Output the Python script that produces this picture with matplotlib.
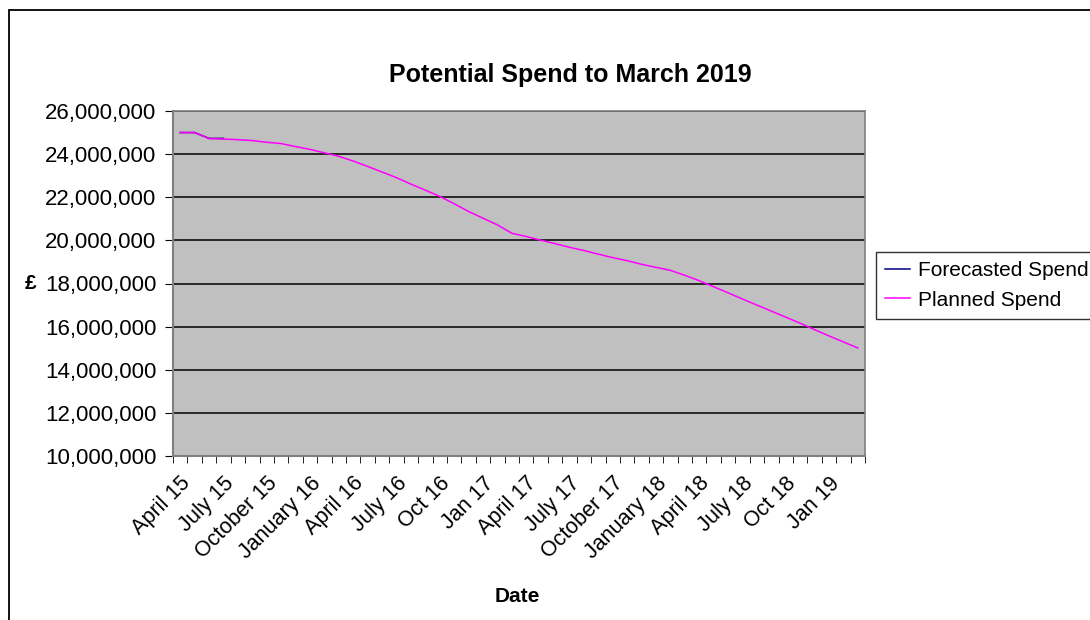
import numpy as np
import matplotlib
matplotlib.use("Agg")
import matplotlib.pyplot as plt
from matplotlib.patches import Rectangle
from matplotlib.ticker import FuncFormatter, FixedLocator

plt.rcParams['font.family'] = ['Liberation Sans', 'DejaVu Sans']

# Month categories April 15 .. March 19 (48 months), label every 3rd
months = ["April 15", "May 15", "June 15", "July 15", "August 15", "September 15",
          "October 15", "November 15", "December 15", "January 16", "February 16", "March 16",
          "April 16", "May 16", "June 16", "July 16", "August 16", "September 16",
          "Oct 16", "Nov 16", "Dec 16", "Jan 17", "Feb 17", "Mar 17",
          "April 17", "May 17", "June 17", "July 17", "August 17", "September 17",
          "October 17", "November 17", "December 17", "January 18", "February 18", "March 18",
          "April 18", "May 18", "June 18", "July 18", "August 18", "September 18",
          "Oct 18", "Nov 18", "Dec 18", "Jan 19", "Feb 19", "Mar 19"]

# Values in millions of pounds
planned = [25.00, 25.00, 24.72, 24.70, 24.67, 24.63, 24.55, 24.49, 24.35, 24.22,
           24.06, 23.90, 23.68, 23.43, 23.17, 22.91, 22.61, 22.33, 22.04, 21.70,
           21.34, 21.03, 20.72, 20.33, 20.18, 20.01, 19.85, 19.68, 19.53, 19.36,
           19.20, 19.06, 18.89, 18.75, 18.61, 18.38, 18.13, 17.85, 17.57, 17.28,
           17.00, 16.72, 16.44, 16.16, 15.86, 15.57, 15.29, 15.01]
forecast = [25.00, 25.00, 24.73, 24.73]

W, H = 1090, 620
fig = plt.figure(figsize=(W / 100, H / 100), dpi=100)

# outer chart border (cropped at right/bottom)
fig.patches.append(Rectangle((9 / W, -0.1), 1.2, 1 - 10 / H + 0.1, transform=fig.transFigure,
                             fill=False, edgecolor='black', linewidth=1.3))

ax = fig.add_axes([173 / W, 1 - 456 / H, (865 - 173) / W, (456 - 111) / H])
ax.set_facecolor('#C0C0C0')

x = np.arange(len(months))
ax.plot(x[:len(forecast)], np.array(forecast) * 1e6, color='#000080', linewidth=1.1,
        label='Forecasted Spend')
ax.plot(x, np.array(planned) * 1e6, color='#FF00FF', linewidth=1.1, label='Planned Spend')

ax.set_xlim(-0.5, len(months) - 0.5)
ax.set_ylim(10e6, 26e6)
ax.set_yticks(np.arange(10e6, 26e6 + 1, 2e6))
ax.yaxis.set_major_formatter(FuncFormatter(lambda v, p: f"{v:,.0f}"))
ax.yaxis.grid(True, color='black', linewidth=1.1)
ax.set_axisbelow(True)

lab_idx = x[::3]
ax.set_xticks(lab_idx)
ax.set_xticklabels([months[i] for i in lab_idx], rotation=45, ha='right', va='top',
                   rotation_mode='anchor')
ax.xaxis.set_minor_locator(FixedLocator(np.arange(-0.5, len(months), 1)))
ax.tick_params(axis='x', which='major', length=0, pad=12, labelsize=15.5)
ax.tick_params(axis='x', which='minor', length=5, color='black', direction='out')
ax.tick_params(axis='y', length=6, color='black', labelsize=16, pad=6)

for s in ['top', 'right']:
    ax.spines[s].set_color('#808080')
    ax.spines[s].set_linewidth(1.2)
for s in ['left', 'bottom']:
    ax.spines[s].set_color('#808080')
    ax.spines[s].set_linewidth(1.5)

fig.text(570 / W, 1 - 75 / H, "Potential Spend to March 2019", ha='center', va='center',
         fontsize=18, fontweight='bold')
fig.text(517 / W, 1 - 597 / H, "Date", ha='center', va='center', fontsize=15, fontweight='bold')
fig.text(31 / W, 1 - 284 / H, "£", ha='center', va='center', fontsize=15, fontweight='bold')

leg = fig.legend(loc='upper left', bbox_to_anchor=(876 / W, 1 - 252 / H), fontsize=15,
                 frameon=True, fancybox=False, edgecolor='black', handlelength=1.2,
                 handletextpad=0.35, borderpad=0.45, labelspacing=0.5, borderaxespad=0)
leg.get_frame().set_linewidth(1.0)

fig.savefig("out.png", dpi=100)
